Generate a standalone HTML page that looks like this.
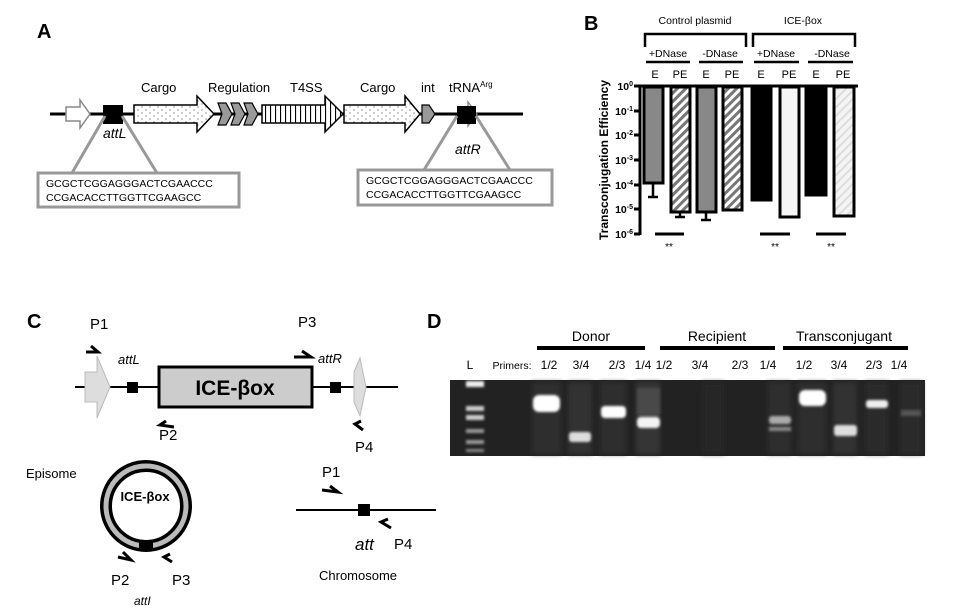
<!DOCTYPE html>
<html><head><meta charset="utf-8"><style>
html,body{margin:0;padding:0;background:#fff;}
svg{display:block;font-family:"Liberation Sans",sans-serif;}
</style></head><body>
<svg width="957" height="612" viewBox="0 0 957 612" xmlns="http://www.w3.org/2000/svg">
<defs>
<pattern id="dots" width="8" height="6" patternUnits="userSpaceOnUse"><rect width="8" height="6" fill="#fff"/><circle cx="2" cy="2" r="0.6" fill="#555"/><circle cx="6" cy="5" r="0.6" fill="#555"/></pattern>
<pattern id="vstr" width="5" height="10" patternUnits="userSpaceOnUse"><rect width="5" height="10" fill="#fff"/><line x1="0.5" y1="0" x2="0.5" y2="10" stroke="#000" stroke-width="1.2"/></pattern>
<pattern id="hatch" width="6" height="6" patternUnits="userSpaceOnUse" patternTransform="rotate(45)"><rect width="6" height="6" fill="#fff"/><rect width="3" height="6" fill="#777"/></pattern>
<pattern id="hatch2" width="6" height="6" patternUnits="userSpaceOnUse" patternTransform="rotate(45)"><rect width="6" height="6" fill="#f4f4f4"/><rect width="2" height="6" fill="#ddd"/></pattern>
<filter id="blur"><feGaussianBlur stdDeviation="1.2"/></filter>
<filter id="blur2"><feGaussianBlur stdDeviation="2.5"/></filter>
</defs>

<!-- Panel A -->
<text x="37" y="38" font-size="20" font-weight="bold">A</text>
<line x1="50" y1="114" x2="523" y2="114" stroke="#000" stroke-width="3"/>
<polygon points="66,107 80,107 80,100 90,114 80,128 80,121 66,121" fill="#fff" stroke="#888" stroke-width="1.5"/>
<rect x="103" y="105" width="20" height="19" fill="#000"/>
<polygon points="134,105 197,105 197,96 214,114 197,132 197,123 134,123" fill="url(#dots)" stroke="#000" stroke-width="1.5"/>
<polygon points="218,103 226,103 232,114 226,125 218,125 222,114" fill="#999" stroke="#000" stroke-width="1.2"/>
<polygon points="231,103 239,103 245,114 239,125 231,125 235,114" fill="#999" stroke="#000" stroke-width="1.2"/>
<polygon points="244,103 252,103 258,114 252,125 244,125 248,114" fill="#999" stroke="#000" stroke-width="1.2"/>
<polygon points="262,105 325,105 325,96 343,114 325,132 325,123 262,123" fill="url(#vstr)" stroke="#000" stroke-width="1.5"/>
<polygon points="344,105 405,105 405,96 420,114 405,132 405,123 344,123" fill="url(#dots)" stroke="#000" stroke-width="1.5"/>
<polygon points="422,105 429,105 435,114 429,123 422,123" fill="#999" stroke="#000" stroke-width="1.2"/>
<polygon points="459,108 468,108 468,102 477,114 468,126 468,120 459,120" fill="#fff" stroke="#888" stroke-width="1.3"/>
<rect x="457" y="106" width="19" height="18" fill="#000"/>
<g font-size="13">
<text x="141" y="92">Cargo</text><text x="208" y="92">Regulation</text><text x="290" y="92">T4SS</text>
<text x="360" y="92">Cargo</text><text x="421" y="92">int</text><text x="449" y="92">tRNA<tspan font-size="8" dy="-5">Arg</tspan></text>
<text x="103" y="138" font-style="italic" font-size="14">attL</text>
<text x="455" y="154" font-style="italic" font-size="14">attR</text>
</g>
<g stroke="#999" stroke-width="3" fill="none">
<line x1="105" y1="116" x2="72" y2="173"/><line x1="122" y1="116" x2="157" y2="173"/>
<line x1="457" y1="116" x2="424" y2="170"/><line x1="476" y1="116" x2="510" y2="170"/>
<rect x="38" y="173" width="201" height="34"/><rect x="358" y="170" width="194" height="35"/>
</g>
<g font-size="10.5">
<text x="46" y="187">GCGCTCGGAGGGACTCGAACCC</text><text x="46" y="201">CCGACACCTTGGTTCGAAGCC</text>
<text x="366" y="184">GCGCTCGGAGGGACTCGAACCC</text><text x="366" y="198">CCGACACCTTGGTTCGAAGCC</text>
</g>

<!-- Panel B -->
<text x="584" y="30" font-size="20" font-weight="bold">B</text>
<g font-size="10.5" text-anchor="middle">
<text x="695" y="24">Control plasmid</text><text x="803" y="24">ICE-βox</text>
<text x="668" y="57">+DNase</text><text x="720" y="57">-DNase</text><text x="776" y="57">+DNase</text><text x="832" y="57">-DNase</text>
<text x="655" y="78" font-size="11">E</text><text x="680" y="78" font-size="11">PE</text><text x="706" y="78" font-size="11">E</text><text x="732" y="78" font-size="11">PE</text>
<text x="761" y="78" font-size="11">E</text><text x="789" y="78" font-size="11">PE</text><text x="816" y="78" font-size="11">E</text><text x="843" y="78" font-size="11">PE</text>
</g>
<g stroke="#000" stroke-width="2.5" fill="none">
<polyline points="645,47 645,34 746,34 746,47"/><polyline points="753,47 753,34 855,34 855,47"/>
<line x1="646" y1="62" x2="690" y2="62"/><line x1="699" y1="62" x2="743" y2="62"/>
<line x1="754" y1="62" x2="799" y2="62"/><line x1="808" y1="62" x2="853" y2="62"/>
</g>
<text transform="translate(608,160) rotate(-90)" font-size="12" font-weight="bold" text-anchor="middle">Transconjugation Efficiency</text>
<g font-size="10.5" font-weight="bold" text-anchor="end">
<text x="633" y="90">10<tspan font-size="7" dy="-4">0</tspan></text>
<text x="633" y="115">10<tspan font-size="7" dy="-4">-1</tspan></text>
<text x="633" y="139">10<tspan font-size="7" dy="-4">-2</tspan></text>
<text x="633" y="164">10<tspan font-size="7" dy="-4">-3</tspan></text>
<text x="633" y="189">10<tspan font-size="7" dy="-4">-4</tspan></text>
<text x="633" y="213">10<tspan font-size="7" dy="-4">-5</tspan></text>
<text x="633" y="238">10<tspan font-size="7" dy="-4">-6</tspan></text>
</g>
<g stroke="#000" stroke-width="3">
<line x1="640" y1="85" x2="640" y2="235"/><line x1="638" y1="86" x2="858" y2="86"/>
<line x1="634" y1="86" x2="640" y2="86"/><line x1="634" y1="111" x2="640" y2="111"/><line x1="634" y1="135" x2="640" y2="135"/>
<line x1="634" y1="160" x2="640" y2="160"/><line x1="634" y1="185" x2="640" y2="185"/><line x1="634" y1="209" x2="640" y2="209"/><line x1="634" y1="234" x2="640" y2="234"/>
</g>
<g stroke="#000" stroke-width="2.5">
<line x1="653" y1="183" x2="653" y2="197"/><line x1="648" y1="197" x2="658" y2="197"/>
<line x1="680" y1="212" x2="680" y2="217"/><line x1="675" y1="217" x2="685" y2="217"/>
<line x1="706" y1="212" x2="706" y2="220"/><line x1="701" y1="220" x2="711" y2="220"/>
</g>
<g stroke="#000" stroke-width="3">
<rect x="644" y="87" width="19" height="96" fill="#888"/>
<rect x="671" y="87" width="19" height="125" fill="url(#hatch)"/>
<rect x="697" y="87" width="19" height="125" fill="#888"/>
<rect x="723" y="87" width="19" height="123" fill="url(#hatch)"/>
<rect x="752" y="87" width="19" height="113" fill="#000"/>
<rect x="780" y="87" width="19" height="130" fill="#f5f5f5"/>
<rect x="806" y="87" width="20" height="108" fill="#000"/>
<rect x="834" y="87" width="20" height="129" fill="url(#hatch2)"/>
<line x1="655" y1="234" x2="684" y2="234"/><line x1="760" y1="234" x2="790" y2="234"/><line x1="816" y1="234" x2="846" y2="234"/>
</g>
<g font-size="10" text-anchor="middle"><text x="669" y="250">**</text><text x="775" y="250">**</text><text x="831" y="250">**</text></g>

<!-- Panel C -->
<text x="27" y="328" font-size="20" font-weight="bold">C</text>
<line x1="75" y1="387" x2="398" y2="387" stroke="#000" stroke-width="2"/>
<polygon points="85,372 97,372 97,356 110,387 97,418 97,402 85,402" fill="#ddd" stroke="#bbb" stroke-width="1"/>
<polygon points="354,372 360,358 366,387 360,416 354,402" fill="#ddd" stroke="#bbb" stroke-width="1"/>
<rect x="127" y="382" width="11" height="11" fill="#000"/>
<rect x="330" y="382" width="11" height="11" fill="#000"/>
<rect x="159" y="367" width="153" height="40" fill="#ccc" stroke="#000" stroke-width="3"/>
<text x="235" y="395" font-size="21" font-weight="bold" text-anchor="middle">ICE-βox</text>
<g font-size="15">
<text x="90" y="329">P1</text><text x="298" y="327">P3</text><text x="159" y="440">P2</text><text x="355" y="452">P4</text>
</g>
<g font-size="13" font-style="italic"><text x="118" y="364">attL</text><text x="318" y="363">attR</text></g>
<g stroke="#000" stroke-width="3" fill="none">
<polyline points="86,352 98,352 91,346"/>
<polyline points="294,357 311,357 302,351"/>
<polyline points="174,427 160,425 166,421"/>
<polyline points="363,430 355,424 361,421"/>
</g>
<!-- episome -->
<circle cx="146" cy="506" r="40" fill="none" stroke="#000" stroke-width="12"/>
<circle cx="146" cy="506" r="40" fill="none" stroke="#bbb" stroke-width="5"/>
<rect x="139" y="541" width="14" height="10" fill="#000"/>
<text x="145" y="501" font-size="13" font-weight="bold" text-anchor="middle">ICE-βox</text>
<text x="26" y="478" font-size="13">Episome</text>
<g stroke="#000" stroke-width="3" fill="none">
<polyline points="118,557 131,560 123,552"/>
<polyline points="172,562 164,557 170,554"/>
</g>
<text x="111" y="585" font-size="15">P2</text><text x="172" y="585" font-size="15">P3</text>
<text x="134" y="605" font-size="12" font-style="italic">attI</text>
<!-- chromosome -->
<line x1="296" y1="510" x2="436" y2="510" stroke="#000" stroke-width="2"/>
<rect x="358" y="504" width="12" height="12" fill="#000"/>
<text x="322" y="477" font-size="15">P1</text>
<polyline points="322,490 338,492 330,486" stroke="#000" stroke-width="3" fill="none"/>
<polyline points="391,528 381,522 388,519" stroke="#000" stroke-width="3" fill="none"/>
<text x="355" y="550" font-size="17" font-style="italic">att</text>
<text x="394" y="549" font-size="15">P4</text>
<text x="319" y="580" font-size="13">Chromosome</text>

<!-- Panel D -->
<text x="427" y="328" font-size="20" font-weight="bold">D</text>
<g font-size="14" text-anchor="middle"><text x="591" y="341">Donor</text><text x="717" y="341">Recipient</text><text x="844" y="341">Transconjugant</text></g>
<g stroke="#000" stroke-width="4"><line x1="537" y1="348" x2="645" y2="348"/><line x1="660" y1="348" x2="775" y2="348"/><line x1="783" y1="348" x2="908" y2="348"/></g>
<g font-size="12" text-anchor="middle">
<text x="470" y="369">L</text><text x="512" y="369" font-size="10.5">Primers:</text>
<text x="549" y="369">1/2</text><text x="581" y="369">3/4</text><text x="617" y="369">2/3</text><text x="643" y="369">1/4</text>
<text x="664" y="369">1/2</text><text x="700" y="369">3/4</text><text x="740" y="369">2/3</text><text x="768" y="369">1/4</text>
<text x="804" y="369">1/2</text><text x="839" y="369">3/4</text><text x="874" y="369">2/3</text><text x="899" y="369">1/4</text>
</g>
<rect x="450" y="380" width="475" height="76" fill="#222"/>
<g filter="url(#blur2)" fill="#2d2d2d">
<rect x="532" y="382" width="29" height="72"/><rect x="568" y="382" width="24" height="72" fill="#333"/><rect x="600" y="382" width="26" height="72"/><rect x="636" y="382" width="24" height="72" fill="#363636"/>
<rect x="702" y="382" width="22" height="72" fill="#282828"/><rect x="768" y="382" width="23" height="72"/>
<rect x="798" y="382" width="28" height="72"/><rect x="833" y="382" width="24" height="72" fill="#333"/><rect x="865" y="382" width="23" height="72" fill="#292929"/><rect x="900" y="382" width="22" height="72" fill="#2b2b2b"/>
</g>
<g filter="url(#blur)">
<g fill="#ccc"><rect x="466" y="381" width="18" height="6" fill="#eee"/><rect x="466" y="406" width="18" height="5"/><rect x="466" y="415" width="18" height="5"/><rect x="466" y="429" width="18" height="4" fill="#999"/><rect x="466" y="440" width="18" height="4" fill="#999"/><rect x="466" y="449" width="18" height="3" fill="#888"/></g>
<rect x="533" y="395" width="27" height="17" rx="6" fill="#fff"/>
<rect x="569" y="432" width="22" height="10" rx="3" fill="#ddd"/>
<rect x="601" y="406" width="25" height="12" rx="4" fill="#fff"/>
<rect x="637" y="417" width="23" height="11" rx="4" fill="#f4f4f4"/>
<rect x="637" y="388" width="23" height="27" fill="#4a4a4a"/>
<rect x="769" y="416" width="22" height="8" rx="3" fill="#aaa"/><rect x="769" y="427" width="22" height="4" fill="#888"/>
<rect x="799" y="390" width="27" height="16" rx="6" fill="#fff"/>
<rect x="834" y="425" width="23" height="11" rx="3" fill="#ddd"/>
<rect x="866" y="400" width="22" height="8" rx="3" fill="#eee"/>
<rect x="901" y="410" width="20" height="6" fill="#555"/>
</g>
</svg>
</body></html>
